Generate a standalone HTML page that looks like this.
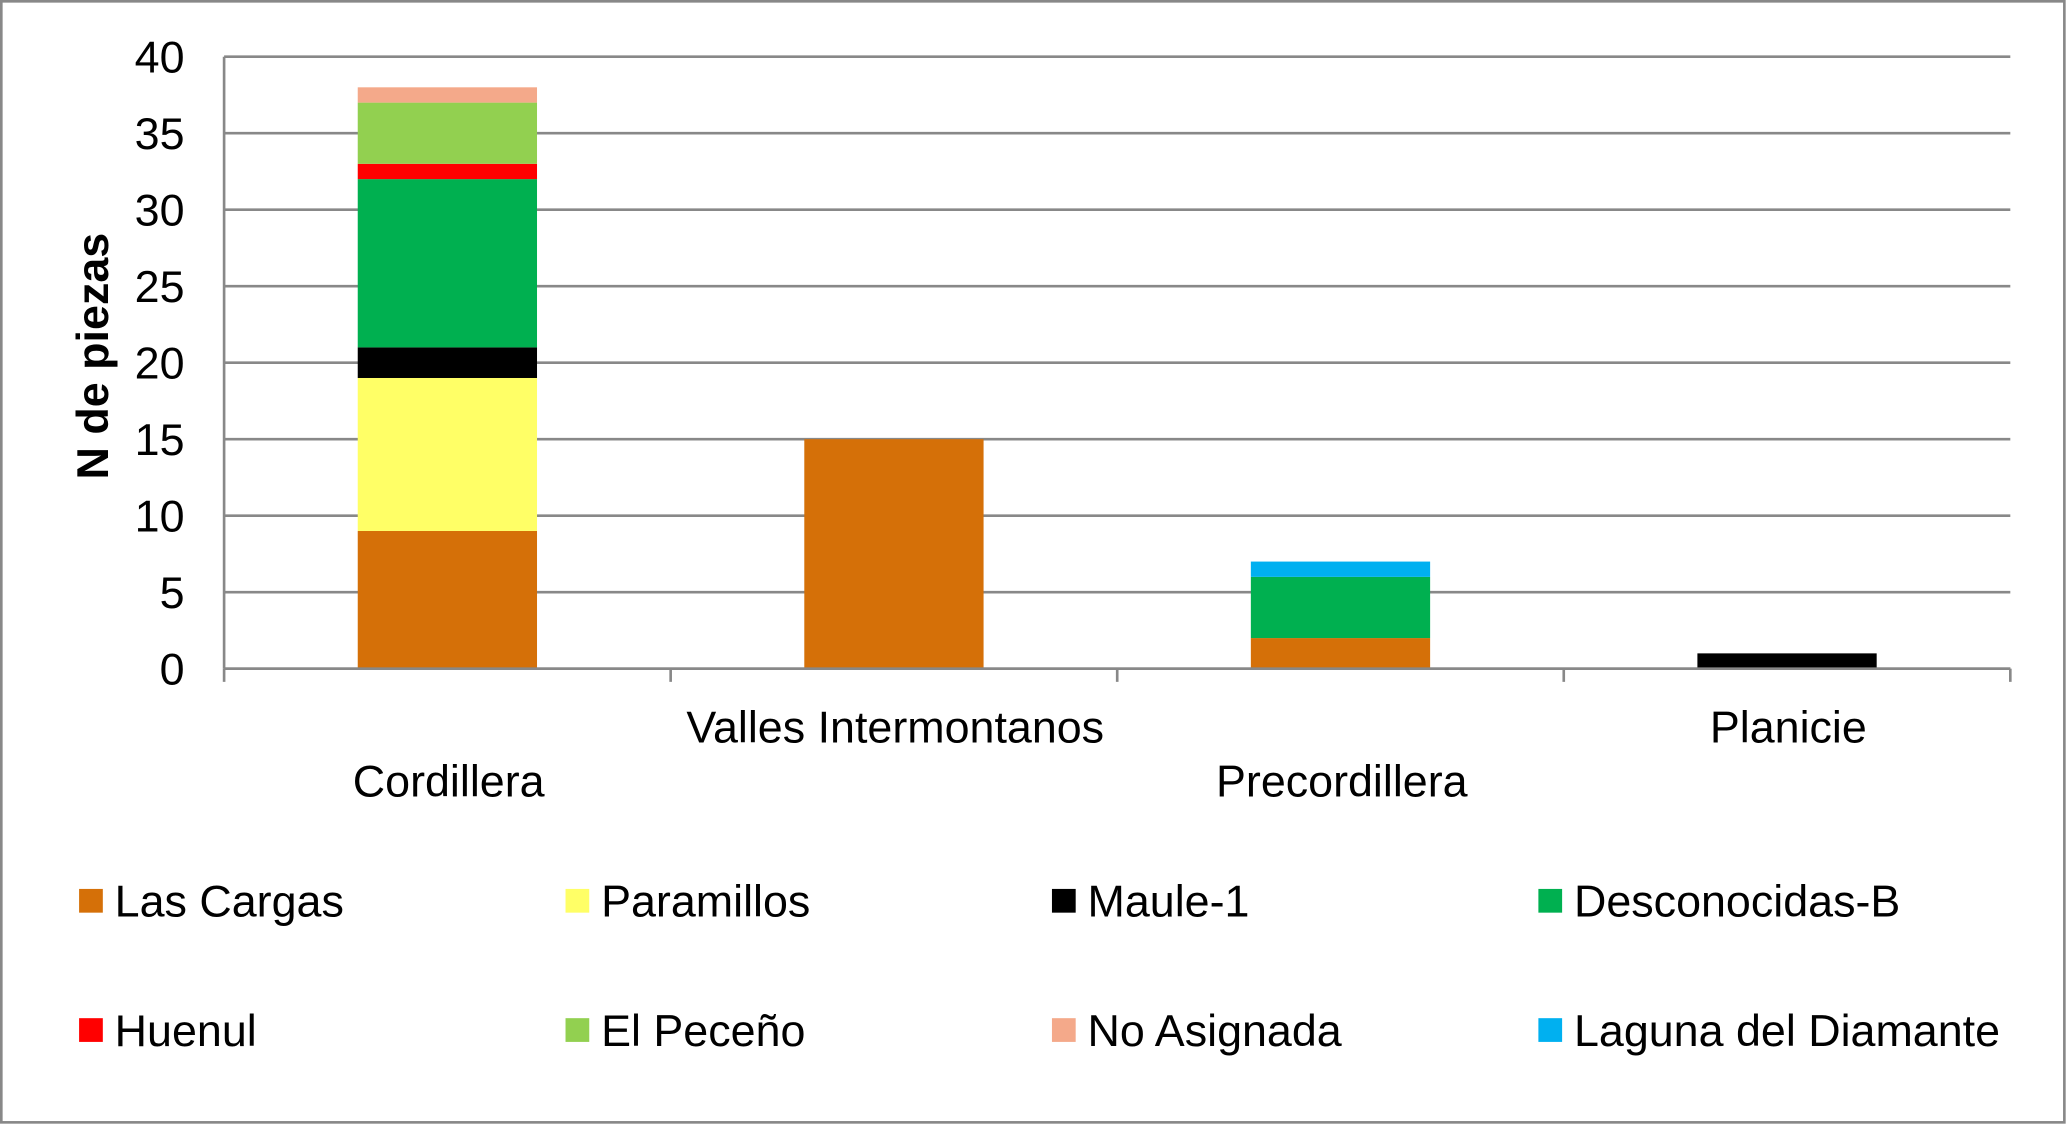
<!DOCTYPE html>
<html><head><meta charset="utf-8"><style>
html,body{margin:0;padding:0;background:#fff}
svg{display:block}
text{font-family:"Liberation Sans",Arial,sans-serif;fill:#000}
</style></head><body>
<svg id="chart" width="2067" height="1125" viewBox="0 0 1568 853" preserveAspectRatio="none" xmlns="http://www.w3.org/2000/svg">
<rect x="1" y="1" width="1565" height="850" fill="#fff" stroke="#888" stroke-width="2"/>
<g id="grid"></g><g id="bars"></g><g id="axes"></g><g id="legend"></g>
<text transform="translate(82,270) rotate(-90)" text-anchor="middle" font-size="34" font-weight="bold">N de piezas</text>
</svg>
<script>
const categories=["Cordillera","Valles Intermontanos","Precordillera","Planicie"];
const seriesNames=["Las Cargas","Paramillos","Maule-1","Desconocidas-B","Huenul","El Peceño","No Asignada","Laguna del Diamante"];
const seriesColors=["#d57008","#ffff66","#000000","#00b050","#ff0000","#92d050","#f4a98a","#00b0f0"];
const lasCargas=[9,15,2,0];
const paramillos=[10,0,0,0];
const maule1=[2,0,0,1];
const desconocidasB=[11,0,4,0];
const huenul=[1,0,0,0];
const elPeceno=[4,0,0,0];
const noAsignada=[1,0,0,0];
const lagunaDiamante=[0,0,1,0];
const yTicks=[0,5,10,15,20,25,30,35,40];
const series=[lasCargas,paramillos,maule1,desconocidasB,huenul,elPeceno,noAsignada,lagunaDiamante];
const NS="http://www.w3.org/2000/svg";
const L=170,R=1525,T=43,B=507,yMax=40;
const y=v=>B-(B-T)*v/yMax;
const cw=(R-L)/categories.length;
const xc=i=>L+cw*(i+0.5);
const bw=136;
function mk(tag,attrs,parent){const e=document.createElementNS(NS,tag);for(const k in attrs)e.setAttribute(k,attrs[k]);parent.appendChild(e);return e;}
const grid=document.getElementById('grid'),bars=document.getElementById('bars'),axes=document.getElementById('axes'),legend=document.getElementById('legend');
yTicks.forEach(t=>{
 const ln=mk('line',{x1:L,x2:R,y1:y(t),y2:y(t),stroke:'#888','stroke-width':2},grid);
 
 
 const tx=mk('text',{x:140,y:y(t)+12,'text-anchor':'end','font-size':34},axes);
 tx.textContent=t;
 
 
});
categories.forEach((c,i)=>{
 let acc=0;
 series.forEach((s,j)=>{
  const v=s[i]; if(!v)return;
  const r=mk('rect',{x:xc(i)-bw/2,y:y(acc+v),width:bw,height:y(acc)-y(acc+v),fill:seriesColors[j]},bars);
  
  
  acc+=v;
 });
 const tx=mk('text',{x:xc(i)+1,y:i%2?563:604,'text-anchor':'middle','font-size':34},axes);
 tx.textContent=c;
 
 
});
const ax=mk('line',{x1:L,x2:R,y1:B,y2:B,stroke:'#888','stroke-width':2},axes);


const ay=mk('line',{x1:L,x2:L,y1:T,y2:B,stroke:'#888','stroke-width':2},axes);


for(let i=0;i<=categories.length;i++){
 const tk=mk('line',{x1:L+cw*i,x2:L+cw*i,y1:B,y2:B+10,stroke:'#888','stroke-width':2},axes);
 
 
}
const lx=[60,429,798,1167],ly=[683,781];
seriesNames.forEach((n,j)=>{
 const cx=lx[j%4],cy=ly[Math.floor(j/4)];
 const g=mk('g',{},legend);
 
 
 mk('rect',{x:cx,y:cy-9,width:18,height:18,fill:seriesColors[j]},g);
 const t=mk('text',{x:cx+27,y:cy+12,'font-size':34},g);
 t.textContent=n;
});
</script>
</body></html>
